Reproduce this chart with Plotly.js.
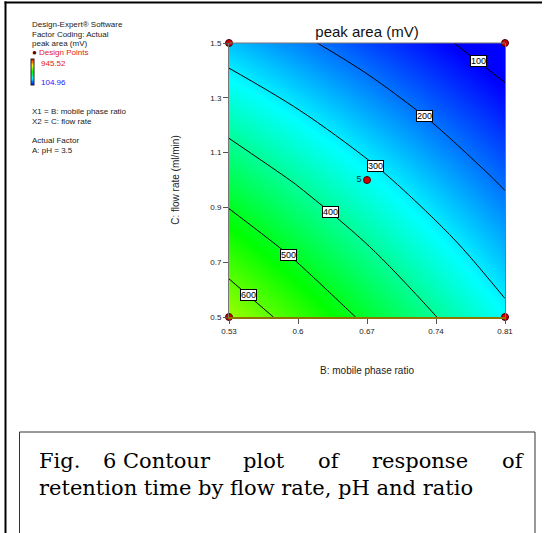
<!DOCTYPE html>
<html>
<head>
<meta charset="utf-8">
<script src="https://cdn.plot.ly/plotly-3.0.1.min.js"></script>
<style>html,body{margin:0;padding:0;background:#fff;}#chart{width:551px;height:533px;}</style>
</head>
<body>
<div id="chart"></div>
<script>
// ---- data ----
const ratio = [0.53, 0.60, 0.67, 0.74, 0.81];          // B: mobile phase ratio
const flowRate = [0.5, 0.75, 1.0, 1.25, 1.5];          // C: flow rate (ml/min)
const peakArea = [                                     // rows follow flowRate, columns follow ratio
  [654, 570, 486, 401, 317],
  [557, 481, 405, 329, 254],
  [459, 392, 325, 257, 190],
  [362, 303, 244, 185, 127],
  [264, 214, 164, 113, 63]
];
const designRatio = [0.53, 0.81, 0.53, 0.81, 0.67];
const designFlow = [0.5, 0.5, 1.5, 1.5, 1.0];
const designLabels = ['', '', '', '', '5'];
const colorRange = [104.96, 945.52];
const contourLevels = [100, 200, 300, 400, 500, 600];
const xTickVals = [0.53, 0.6, 0.67, 0.74, 0.81];
const xTickText = ['0.53', '0.6', '0.67', '0.74', '0.81'];
const yTickVals = [0.5, 0.7, 0.9, 1.1, 1.3, 1.5];
const yTickText = ['0.5', '0.7', '0.9', '1.1', '1.3', '1.5'];
const infoLines = ['Design-Expert® Software', 'Factor Coding: Actual', 'peak area (mV)'];
const factorLines = ['X1 = B: mobile phase ratio', 'X2 = C: flow rate'];
const actualLines = ['Actual Factor', 'A: pH = 3.5'];
const captionLine1 = ['Fig.', '6 Contour', 'plot', 'of', 'response', 'of'];
const captionLine2 = 'retention time by flow rate, pH and ratio';

// ---- layout helpers (pixel -> paper) ----
const L = 229, R = 505, T = 43, B = 317;
const W = 551, H = 533;
const px = x => (x - L) / (R - L);
const py = y => (B - y) / (B - T);

const dcScale = [[0, 'rgb(0,0,255)'], [0.25, 'rgb(0,255,255)'], [0.5, 'rgb(0,255,0)'], [0.75, 'rgb(255,255,0)'], [1, 'rgb(255,0,0)']];

const contour = {
  type: 'contour', x: ratio, y: flowRate, z: peakArea,
  zauto: false, zmin: colorRange[0], zmax: colorRange[1],
  colorscale: dcScale, showscale: false,
  contours: {coloring: 'heatmap', start: contourLevels[0], end: contourLevels[contourLevels.length - 1],
    size: contourLevels[1] - contourLevels[0], showlabels: false},
  line: {color: '#000', width: 1, smoothing: 1},
  hoverinfo: 'skip'
};

const scaleKey = {
  type: 'scatter', x: [null], y: [null], mode: 'markers', showlegend: false, hoverinfo: 'skip',
  marker: {color: colorRange, cmin: colorRange[0], cmax: colorRange[1], colorscale: dcScale, showscale: true,
    colorbar: {x: px(31), xanchor: 'left', y: py(72), yanchor: 'middle', len: 26, lenmode: 'pixels',
      thickness: 3, thicknessmode: 'pixels', xpad: 0, ypad: 0, outlinewidth: 1, outlinecolor: '#222',
      showticklabels: false, ticks: ''}}
};

const points = {
  type: 'scatter', x: designRatio, y: designFlow, text: designLabels, mode: 'markers+text',
  textposition: 'middle left', textfont: {family: 'Arial', size: 9, color: '#033'},
  marker: {size: 7, color: '#d00000', line: {color: '#400', width: 1}},
  cliponaxis: false, showlegend: false, hoverinfo: 'skip'
};

// ---- contour label placement: find each level along a diagonal path across the plot (paper coords) ----
function surf(xv, yv) {
  let i = 0, j = 0;
  while (i < ratio.length - 2 && xv > ratio[i + 1]) i++;
  while (j < flowRate.length - 2 && yv > flowRate[j + 1]) j++;
  const tx = (xv - ratio[i]) / (ratio[i + 1] - ratio[i]);
  const ty = (yv - flowRate[j]) / (flowRate[j + 1] - flowRate[j]);
  const z00 = peakArea[j][i], z10 = peakArea[j][i + 1], z01 = peakArea[j + 1][i], z11 = peakArea[j + 1][i + 1];
  return z00 * (1 - tx) * (1 - ty) + z10 * tx * (1 - ty) + z01 * (1 - tx) * ty + z11 * tx * ty;
}
const pathA = [0.03, 0.04], pathB = [0.916, 0.944];   // label path, paper fractions
const toX = f => ratio[0] + f * (ratio[ratio.length - 1] - ratio[0]);
const toY = f => flowRate[0] + f * (flowRate[flowRate.length - 1] - flowRate[0]);
const labelAnn = [];
contourLevels.forEach(lv => {
  let prev = null;
  for (let k = 0; k <= 2000; k++) {
    const t = k / 2000;
    const xv = toX(pathA[0] + t * (pathB[0] - pathA[0]));
    const yv = toY(pathA[1] + t * (pathB[1] - pathA[1]));
    const zv = surf(xv, yv);
    if (prev !== null && (prev - lv) * (zv - lv) <= 0) {
      labelAnn.push({text: String(lv), x: xv, y: yv, xref: 'x', yref: 'y', showarrow: false,
        font: {family: 'Arial, Liberation Sans', size: 9, color: '#000'},
        bgcolor: '#fff', bordercolor: '#000', borderwidth: 1, borderpad: 0});
      break;
    }
    prev = zv;
  }
});

const ann = [];
const small = {family: 'Arial, Liberation Sans', size: 8, color: '#222'};
infoLines.forEach((t, i) => ann.push({text: t, x: px(30), y: py(24.5 + i * 9.5)}));
ann.push({text: '<span style="color:#500">●</span> Design Points', x: px(30), y: py(53), color: '#e02020'});
ann.push({text: String(colorRange[1]), x: px(39), y: py(63), color: '#e02020'});
ann.push({text: String(colorRange[0]), x: px(39), y: py(82), color: '#2020ff'});
factorLines.forEach((t, i) => ann.push({text: t, x: px(30), y: py(111 + i * 10)}));
actualLines.forEach((t, i) => ann.push({text: t, x: px(30), y: py(140 + i * 10)}));
const annotations = ann.map(a => ({
  text: a.text, xref: 'paper', yref: 'paper', x: a.x, y: a.y, xanchor: 'left', yanchor: 'middle',
  showarrow: false, font: Object.assign({}, small, a.color ? {color: a.color} : {})
})).concat(labelAnn);

// ---- caption (justified first line) ----
const ctx = document.createElement('canvas').getContext('2d');
const capFam = 'DejaVu Serif';
function tw(s, size) { ctx.font = size + 'px "' + capFam + '"'; return ctx.measureText(s).width; }
const capSize = Math.round(20 * 430 / tw(captionLine2, 20) * 2) / 2;
const capFont = {family: capFam, size: capSize, color: '#000'};
annotations.push({text: captionLine1[0], xref: 'paper', yref: 'paper', x: px(37), y: py(461),
  xanchor: 'left', yanchor: 'middle', showarrow: false, font: capFont});
const rest = captionLine1.slice(1);
const restW = rest.reduce((s, w) => s + tw(w, capSize), 0);
const gap = (520 - 101 - restW) / (rest.length - 1);
let cx = 101;
rest.forEach(w => {
  annotations.push({text: w, xref: 'paper', yref: 'paper', x: px(cx), y: py(461),
    xanchor: 'left', yanchor: 'middle', showarrow: false, font: capFont});
  cx += tw(w, capSize) + gap;
});
annotations.push({text: captionLine2, xref: 'paper', yref: 'paper', x: px(37), y: py(488),
  xanchor: 'left', yanchor: 'middle', showarrow: false, font: capFont});

const shapes = [
  {type: 'line', xref: 'paper', yref: 'paper', x0: 0, x1: 1, y0: 1, y1: 1, line: {color: '#777', width: 1}},
  {type: 'line', xref: 'paper', yref: 'paper', x0: px(5.5), x1: px(5.5), y0: py(1.5), y1: py(540), line: {color: '#000', width: 2}},
  {type: 'line', xref: 'paper', yref: 'paper', x0: px(4.5), x1: px(542), y0: py(2.5), y1: py(2.5), line: {color: '#000', width: 2}},
  {type: 'rect', xref: 'paper', yref: 'paper', x0: px(19.5), x1: px(535), y0: py(432), y1: py(560), line: {color: '#333', width: 1}}
];

const axisFont = {family: 'Arial, Liberation Sans', size: 8, color: '#222'};
const layout = {
  width: W, height: H, margin: {l: L, r: W - R, t: T, b: H - B}, showlegend: false,
  paper_bgcolor: '#fff', plot_bgcolor: '#fff',
  title: {text: 'peak area (mV)', font: {family: 'Arial, Liberation Sans', size: 15, color: '#111'},
    xref: 'paper', x: 0.5, xanchor: 'center', yref: 'container', y: 1 - 32 / H, yanchor: 'middle'},
  xaxis: {range: [ratio[0], ratio[ratio.length - 1]], tickvals: xTickVals, ticktext: xTickText,
    ticks: 'outside', ticklen: 5, tickcolor: '#555', tickfont: axisFont,
    showline: true, linecolor: '#8a7800', linewidth: 2, mirror: false, showgrid: false, zeroline: false, automargin: false,
    title: {text: 'B: mobile phase ratio', font: {family: 'Arial, Liberation Sans', size: 10, color: '#222'}, standoff: 32}},
  yaxis: {range: [flowRate[0], flowRate[flowRate.length - 1]], tickvals: yTickVals, ticktext: yTickText,
    ticks: 'outside', ticklen: 5, tickcolor: '#555', tickfont: axisFont,
    showline: true, linecolor: '#777', linewidth: 1, mirror: true, showgrid: false, zeroline: false, automargin: false,
    title: {text: 'C: flow rate (ml/min)', font: {family: 'Arial, Liberation Sans', size: 10, color: '#222'}, standoff: 28}},
  annotations: annotations, shapes: shapes
};

Plotly.newPlot('chart', [contour, scaleKey, points], layout, {staticPlot: true, displayModeBar: false});
</script>
</body>
</html>
